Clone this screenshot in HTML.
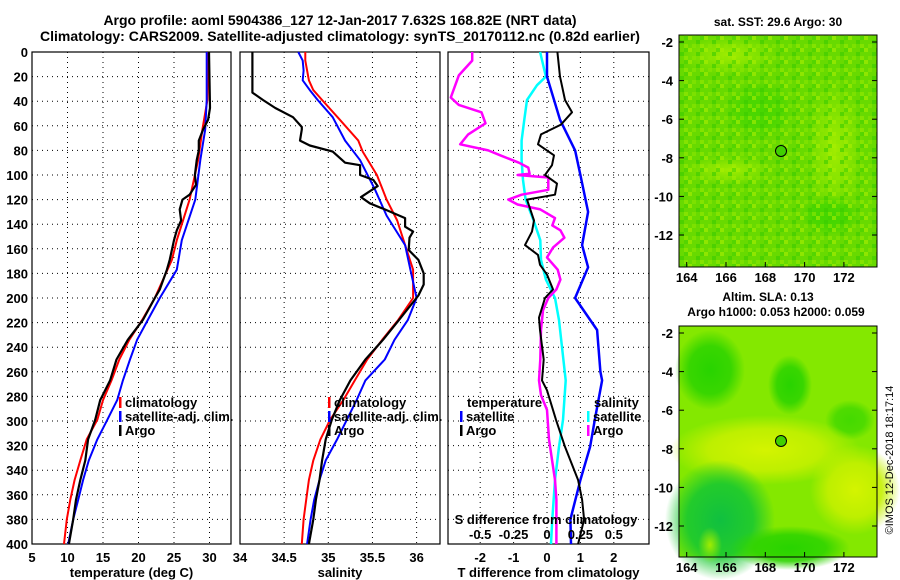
<!DOCTYPE html>
<html><head><meta charset="utf-8">
<style>
html,body{margin:0;padding:0;background:#fff;}
svg{display:block;font-family:"Liberation Sans",Arial,sans-serif;font-weight:bold;}
</style></head>
<body>
<svg id="chart" width="900" height="580" viewBox="0 0 900 580" xmlns="http://www.w3.org/2000/svg">
<defs>
<radialGradient id="gy" cx="0.5" cy="0.5" r="0.5"><stop offset="0" stop-color="#d4f400"/><stop offset="0.6" stop-color="#c4f000" stop-opacity="0.9"/><stop offset="1" stop-color="#c4f000" stop-opacity="0"/></radialGradient>
<radialGradient id="gd" cx="0.5" cy="0.5" r="0.5"><stop offset="0" stop-color="#10c040"/><stop offset="0.6" stop-color="#18c830" stop-opacity="0.9"/><stop offset="1" stop-color="#18c830" stop-opacity="0"/></radialGradient>
<radialGradient id="gg" cx="0.5" cy="0.5" r="0.5"><stop offset="0" stop-color="#28d400"/><stop offset="0.6" stop-color="#30d400" stop-opacity="0.9"/><stop offset="1" stop-color="#30d400" stop-opacity="0"/></radialGradient>
<radialGradient id="gl" cx="0.5" cy="0.5" r="0.5"><stop offset="0" stop-color="#a0ec00"/><stop offset="1" stop-color="#a0ec00" stop-opacity="0"/></radialGradient>
<pattern id="speck" width="16" height="12" patternUnits="userSpaceOnUse"><rect x="0" y="0" width="4" height="4" fill="#a8ee00" opacity="0.6"/><rect x="8" y="4" width="4" height="4" fill="#38cc00" opacity="0.6"/><rect x="4" y="8" width="4" height="4" fill="#90e800" opacity="0.5"/><rect x="12" y="0" width="4" height="4" fill="#40d000" opacity="0.5"/><rect x="12" y="8" width="4" height="4" fill="#b0f000" opacity="0.4"/></pattern>
</defs>
<text x="340" y="25" font-size="14" text-anchor="middle">Argo profile: aoml 5904386_127 12-Jan-2017 7.632S 168.82E (NRT data)</text>
<text x="340" y="41" font-size="14" text-anchor="middle">Climatology: CARS2009. Satellite-adjusted climatology: synTS_20170112.nc (0.82d earlier)</text>
<g id="p1"></g>
<g id="p2"></g>
<g id="p3"></g>

<g>
<text x="778" y="26" font-size="12" text-anchor="middle">sat. SST: 29.6 Argo: 30</text>
<rect x="679" y="35" width="198" height="232" fill="#68da00"/>
<ellipse cx="730" cy="55" rx="50" ry="20" fill="url(#gl)"/>
<ellipse cx="835" cy="150" rx="30" ry="70" fill="url(#gl)"/>
<ellipse cx="730" cy="170" rx="45" ry="15" fill="url(#gl)"/>
<ellipse cx="830" cy="215" rx="30" ry="20" fill="url(#gg)" opacity="0.6"/>
<ellipse cx="760" cy="110" rx="35" ry="30" fill="url(#gg)" opacity="0.5"/>
<rect x="679" y="35" width="198" height="232" fill="url(#speck)"/>
<rect x="679" y="35" width="198" height="232" fill="none" stroke="#000"/>
<circle cx="781" cy="151" r="5.5" fill="#40d000" stroke="#000"/>
</g>
<g>
<text x="768" y="301" font-size="12" text-anchor="middle">Altim. SLA: 0.13</text>
<text x="776" y="316" font-size="12" text-anchor="middle">Argo h1000: 0.053 h2000: 0.059</text>
<rect x="679" y="326" width="198" height="231" fill="#84e800"/>
<ellipse cx="710" cy="370" rx="35" ry="40" fill="url(#gg)"/>
<ellipse cx="790" cy="385" rx="22" ry="30" fill="url(#gg)"/>
<ellipse cx="850" cy="420" rx="25" ry="20" fill="url(#gg)" opacity="0.7"/>
<ellipse cx="765" cy="450" rx="95" ry="35" fill="url(#gy)"/>
<ellipse cx="855" cy="490" rx="45" ry="45" fill="url(#gy)"/>
<ellipse cx="720" cy="520" rx="55" ry="60" fill="url(#gd)"/>
<ellipse cx="790" cy="548" rx="60" ry="22" fill="url(#gg)"/>
<ellipse cx="710" cy="545" rx="12" ry="18" fill="url(#gl)"/>
<rect x="679" y="326" width="198" height="231" fill="none" stroke="#000"/>
<circle cx="781" cy="441" r="5.5" fill="#40d000" stroke="#000"/>
</g>
<g id="maps-axes"></g>
<text transform="translate(893,460) rotate(-90)" font-size="11" font-weight="normal" text-anchor="middle">©IMOS 12-Dec-2018 18:17:14</text>
</svg>
<script>
// ---- data ----
const depthTicks = [0,20,40,60,80,100,120,140,160,180,200,220,240,260,280,300,320,340,360,380,400];
const tTicks = [5,10,15,20,25,30,35];
const sTicks = [34,34.5,35,35.5,36];
const dTicks = [-2,-1,0,1,2];
const dsTicks = [-0.5,-0.25,0,0.25,0.5];
const dsTickLabels = ["-0.5","-0.25","0","0.25","0.5"];
const mapLonTicks = [164,166,168,170,172];
const mapLatTicks = [-2,-4,-6,-8,-10,-12];

const tArgoDepth = [0,45.5,55,63,72,80,88,100,108,116,120,128,137,145,153,169,177,193,200,218,234,250,267,283,299,315,332,348,364,380,400];
const tArgo = [29.93,30.07,29.8,29.1,28.5,28.5,28.2,27.95,28.1,27.2,26.2,25.8,26.0,25.4,25.0,24.4,24.0,23.0,22.3,20.6,18.5,16.9,16.0,14.6,13.9,12.9,12.5,11.8,11.2,10.8,10.2];
const tClimDepth = [0,39,63,88,120,153,169,200,218,234,250,267,283,299,315,332,348,364,380,400];
const tClim = [29.8,29.7,29.0,28.4,27.2,25.4,24.7,22.3,20.5,18.7,17.3,16.2,15.0,14.2,12.7,11.8,11.0,10.4,9.9,9.5];
const tSatDepth = [0,39,63,88,120,153,177,200,218,234,250,267,283,299,315,332,348,364,380,400];
const tSat = [29.6,29.6,29.4,28.7,28.0,26.1,25.4,23.0,21.3,19.8,18.8,17.8,17.0,15.6,14.2,13.0,12.2,11.5,10.8,10.1];

const sArgoDepth = [0,33,39,45.5,53,61,63,72,76,81,90,92,100,104,109,118,123,128,135,142,146,151,161,169,180,189,198,218,234,250,267,283,299,315,332,348,364,380,400];
const sArgo = [34.14,34.14,34.26,34.40,34.60,34.70,34.70,34.68,34.79,35.05,35.19,35.36,35.36,35.51,35.56,35.37,35.47,35.64,35.87,35.87,35.96,35.92,35.91,36.02,36.08,36.08,36.02,35.8,35.62,35.42,35.25,35.13,35.04,34.97,34.93,34.90,34.86,34.83,34.78];
const sClimDepth = [0,7,23,31,39,55,72,81,100,120,137,157,177,200,218,234,250,267,283,299,315,332,348,364,380,400];
const sClim = [34.74,34.74,34.78,34.83,34.93,35.13,35.34,35.39,35.55,35.66,35.78,35.87,35.96,35.96,35.79,35.61,35.44,35.30,35.17,35.02,34.91,34.83,34.78,34.75,34.72,34.70];
const sSatDepth = [0,7,15,23,31,39,53,72,88,112,133,157,177,200,218,234,250,267,283,299,315,332,348,364,380,400];
const sSat = [34.66,34.71,34.72,34.71,34.79,34.88,35.05,35.19,35.36,35.53,35.66,35.87,35.93,36.0,35.9,35.75,35.64,35.42,35.32,35.21,35.10,34.97,34.90,34.84,34.80,34.76];

const dtSatDepth = [0,20,55,80,100,130,157,175,200,226,260,267,299,321,348,380,400];
const dtSat = [0,0,0.39,0.84,1.0,1.23,1.05,1.23,0.84,1.5,1.6,1.65,1.43,1.29,1.0,0.7,0.72];
const dtArgoDepth = [0,20,39,49,59,67,75,84,92,100,107,116,120,128,137,146,157,165,173,181,193,200,216,226,250,267,275,299,321,348,364,380,400];
const dtArgo = [0.31,0.39,0.54,0.75,0.42,-0.18,-0.27,0.21,0.15,-0.06,0.3,0.24,-0.6,-0.5,-0.39,-0.45,-0.66,-0.27,-0.21,0,0.18,-0.06,-0.24,-0.21,-0.1,-0.15,0,0.27,0.54,0.93,1.05,1.11,0.93];
const dsSatDepth = [0,20,27,39,55,72,88,104,120,137,153,169,185,200,218,267,299,321,348,380,400];
const dsSat = [-0.052,-0.008,-0.075,-0.15,-0.17,-0.19,-0.19,-0.18,-0.16,-0.1,-0.05,-0.045,-0.008,0.06,0.09,0.14,0.12,0.09,0.06,0.04,0.03];
const dsArgoDepth = [0,7,19,37,43,49,58,67,75,80,84,90,94,99,100,102,112,116,120,124,128,135,141,145,151,159,167,177,185,193,200,210,226,250,267,279,291,315,348,364,400];
const dsArgo = [-0.56,-0.56,-0.66,-0.72,-0.66,-0.49,-0.46,-0.59,-0.65,-0.44,-0.35,-0.21,-0.14,-0.13,-0.22,0.01,0.01,-0.19,-0.29,-0.22,-0.05,0.06,0.04,0.1,0.13,0.045,0,0.08,0.1,0.07,0.01,-0.03,-0.045,-0.05,-0.06,-0.045,0,0.015,0.06,0.07,0.07];

// ---- axes ----
const NS="http://www.w3.org/2000/svg";
const Y0=52, Y1=544;
function yD(d){return Y0+(d/400)*(Y1-Y0);}
function xT(v){return 32+(v-5)*7.1;}
function xS(v){return 240+(v-34)*88.3;}
function xDT(v){return 547+v*33.4;}
function xDS(v){return 547+v*133.6;}
function el(tag,attrs,parent){const e=document.createElementNS(NS,tag);for(const k in attrs)e.setAttribute(k,attrs[k]);parent.appendChild(e);return e;}
function txt(s,attrs,parent){const e=el('text',attrs,parent);e.textContent=s;return e;}

function panel(g,L,R,ticks,xf,labels,title){
  depthTicks.forEach(d=>{
    if(d>0&&d<400){const l=el('line',{x1:L,x2:R,y1:yD(d),y2:yD(d),stroke:'#000','stroke-dasharray':'1,4','stroke-width':1},g);
    }
  });
  ticks.forEach((t,i)=>{
    const x=xf(t);
    if(x>L+1&&x<R-1){const l=el('line',{x1:x,x2:x,y1:Y0,y2:Y1,stroke:'#000','stroke-dasharray':'1,4','stroke-width':1},g);
    }
    if(x>=L-3&&x<=R+3){const t2=txt(labels[i],{x:x,y:562,'font-size':13,'text-anchor':'middle'},g);
    }
  });
  const r=el('rect',{x:L,y:Y0,width:R-L,height:Y1-Y0,fill:'none',stroke:'#000','stroke-width':1.2},g);
  
  const tt=txt(title,{x:(L+R)/2,y:577,'font-size':13,'text-anchor':'middle'},g);
  
}
function line(g,depths,vals,xf,color,w,name){
  const pts=depths.map((d,i)=>xf(vals[i]).toFixed(1)+','+yD(d).toFixed(1)).join(' ');
  const p=el('polyline',{points:pts,fill:'none',stroke:color,'stroke-width':w,'stroke-linejoin':'round'},g);
  
}
function legend(g,x,y,color,label,name){
  const m=el('rect',{x:x,y:y-10,width:2.5,height:11,fill:color},g);
  
  const t=txt(label,{x:x+6,y:y,'font-size':13},g);
  
}

const p1=document.getElementById('p1'),p2=document.getElementById('p2'),p3=document.getElementById('p3');
depthTicks.forEach(d=>{const t=txt(String(d),{x:28,y:yD(d)+5,'font-size':13,'text-anchor':'end'},p1);
});

panel(p1,32,231,tTicks,xT,tTicks.map(String),'temperature (deg C)');
line(p1,tClimDepth,tClim,xT,'#f00',2,'temp-climatology-line');
line(p1,tSatDepth,tSat,xT,'#00f',2,'temp-satellite-line');
line(p1,tArgoDepth,tArgo,xT,'#000',2.2,'temp-argo-line');
legend(p1,119,407,'#f00','climatology','legend-climatology');
legend(p1,119,421,'#00f','satellite-adj. clim.','legend-satellite');
legend(p1,119,435,'#000','Argo','legend-argo');

panel(p2,240,440,sTicks,xS,sTicks.map(String),'salinity');
line(p2,sClimDepth,sClim,xS,'#f00',2,'sal-climatology-line');
line(p2,sSatDepth,sSat,xS,'#00f',2,'sal-satellite-line');
line(p2,sArgoDepth,sArgo,xS,'#000',2.2,'sal-argo-line');
legend(p2,328,407,'#f00','climatology','legend-climatology');
legend(p2,328,421,'#00f','satellite-adj. clim.','legend-satellite');
legend(p2,328,435,'#000','Argo','legend-argo');

panel(p3,448,649,dTicks,xDT,dTicks.map(String),'T difference from climatology');
line(p3,dsSatDepth,dsSat,xDS,'#0ff',2.5,'sdiff-satellite-line');
line(p3,dsArgoDepth,dsArgo,xDS,'#f0f',2.5,'sdiff-argo-line');
line(p3,dtSatDepth,dtSat,xDT,'#00f',2.5,'tdiff-satellite-line');
line(p3,dtArgoDepth,dtArgo,xDT,'#000',2,'tdiff-argo-line');
(function(){const t=txt('temperature',{x:467,y:407,'font-size':13},p3);
const s=txt('salinity',{x:594,y:407,'font-size':13},p3);
const a=txt('S difference from climatology',{x:546,y:524,'font-size':13,'text-anchor':'middle'},p3);})();
legend(p3,460,421,'#00f','satellite','legend-t-satellite');
legend(p3,460,435,'#000','Argo','legend-t-argo');
legend(p3,587,421,'#0ff','satellite','legend-s-satellite');
legend(p3,587,435,'#f0f','Argo','legend-s-argo');
dsTicks.forEach((v,i)=>{const t=txt(dsTickLabels[i],{x:xDS(v),y:539,'font-size':13,'text-anchor':'middle'},p3);
});

const ma=document.getElementById('maps-axes');
function mx(lon){return 686.7+(lon-164)*19.65;}
[[42,267],[333,557]].forEach(([ym2,yb])=>{
  mapLatTicks.forEach(lat=>{const y=ym2+(-2-lat)*19.3;
    const t=txt(String(lat),{x:673,y:y+5,'font-size':13,'text-anchor':'end'},ma);
    
    el('line',{x1:679,x2:684,y1:y,y2:y,stroke:'#000'},ma);el('line',{x1:872,x2:877,y1:y,y2:y,stroke:'#000'},ma);});
  mapLonTicks.forEach(lon=>{const x=mx(lon);
    const t=txt(String(lon),{x:x,y:yb+15,'font-size':13,'text-anchor':'middle'},ma);
    
    el('line',{x1:x,x2:x,y1:yb,y2:yb-5,stroke:'#000'},ma);});
});
</script>
</body></html>
